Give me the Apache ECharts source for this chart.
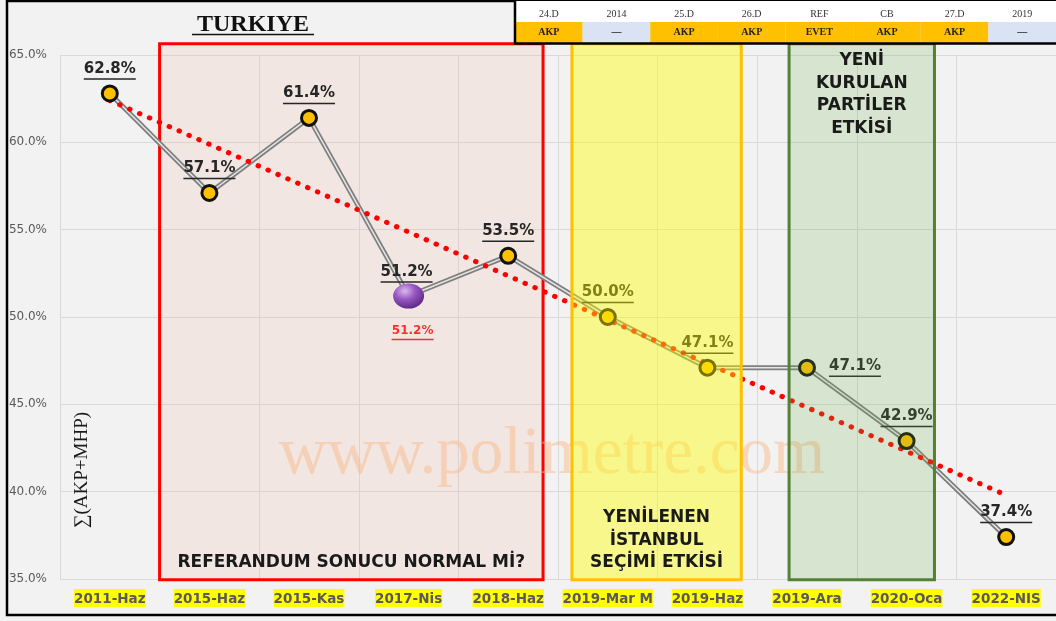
<!DOCTYPE html>
<html>
<head>
<meta charset="utf-8">
<title>TURKIYE</title>
<script src="https://cdn.jsdelivr.net/npm/echarts@6/dist/echarts.min.js"></script>
<style>
  html, body { margin: 0; padding: 0; background: #fff; }
  #chart { width: 1056px; height: 621px; }
</style>
</head>
<body>
<div id="chart"></div>
<script>
// veriler
const categories = ['2011-Haz', '2015-Haz', '2015-Kas', '2017-Nis', '2018-Haz',
  '2019-Mar M', '2019-Haz', '2019-Ara', '2020-Oca', '2022-NIS']
const shareValues = [62.8, 57.1, 61.4, 51.2, 53.5, 50.0, 47.1, 47.1, 42.9, 37.4]
const trendEnds = [62.4, 39.8]
const highlightIndex = 3
const yMin = 35
const yMax = 65
const yStep = 5

// kutular (x: kategori sirasi, y: yuzde)
const boxX = [[0.5, 4.35], [4.64, 6.34], [6.82, 8.28]]
const boxY = [34.95, 65.65]
const boxNotes = ['REFERANDUM SONUCU NORMAL Mİ?', 'YENİLENEN\nİSTANBUL\nSEÇİMİ ETKİSİ', 'YENİ\nKURULAN\nPARTİLER\nETKİSİ']

// ust tablo
const tableHeads = ['24.D', '2014', '25.D', '26.D', 'REF', 'CB', '27.D', '2019']
const tableVals = ['AKP', '—', 'AKP', 'AKP', 'EVET', 'AKP', 'AKP', '—']

const boxStyles = [
  { fill: 'rgba(240,180,150,0.18)', stroke: '#ff0000', noteAt: 'bottom' },
  { fill: 'rgba(255,255,0,0.42)', stroke: '#ffc000', noteAt: 'bottom' },
  { fill: 'rgba(112,173,71,0.2)', stroke: '#548235', noteAt: 'top' }
]

const chart = echarts.init(document.getElementById('chart'))

const boxRenderer = (idxList) => (params, api) => {
  const k = idxList[params.dataIndex]
  const p0 = api.coord([api.value(0), api.value(3)])
  const p1 = api.coord([api.value(1), api.value(2)])
  const st = boxStyles[k]
  const top = st.noteAt === 'top'
  return {
    type: 'group',
    children: [
      {
        type: 'rect',
        shape: { x: p0[0], y: p0[1], width: p1[0] - p0[0], height: p1[1] - p0[1] },
        style: { fill: st.fill, stroke: st.stroke, lineWidth: 3 }
      },
      {
        type: 'text',
        x: (p0[0] + p1[0]) / 2,
        y: top ? p0[1] + 6 : p1[1] - 6,
        style: {
          text: boxNotes[k],
          fill: '#1a1a1a',
          fontSize: 17,
          fontWeight: 'bold',
          fontFamily: 'DejaVu Sans',
          align: 'center',
          verticalAlign: top ? 'top' : 'bottom',
          lineHeight: 22.5
        }
      }
    ]
  }
}

const boxData = (idxList) => idxList.map(k => [boxX[k][0], boxX[k][1], boxY[0], boxY[1]])

const labelRich = (color, size, w) => ({
  v: { color: color, fontSize: size, fontWeight: 'bold', fontFamily: 'DejaVu Sans', lineHeight: size + 2 },
  u: { width: w, height: 1.5, lineHeight: 3, backgroundColor: color }
})

const pointData = shareValues.map((v, i) => {
  if (i === highlightIndex) {
    return {
      value: v,
      symbolSize: [31, 25],
      itemStyle: {
        color: {
          type: 'radial', x: 0.38, y: 0.3, r: 0.75,
          colorStops: [
            { offset: 0, color: '#dcb8f0' },
            { offset: 0.45, color: '#9858c2' },
            { offset: 1, color: '#5a2580' }
          ]
        },
        borderWidth: 0
      },
      label: { distance: 0, offset: [-2, 0] }
    }
  }
  if (i === 7) {
    return { value: v, label: { position: 'right', distance: 13 } }
  }
  return v
})

const trendData = categories.map((c, i) => {
  if (i === 0) return trendEnds[0]
  if (i === categories.length - 1) return trendEnds[1]
  return null
})

const noteData = categories.map((c, i) => (i === highlightIndex ? shareValues[i] : '-'))

const graphics = [
  // cerceve
  {
    type: 'rect', z: -1,
    shape: { x: 7, y: 1, width: 1060, height: 614 },
    style: { fill: 'none', stroke: '#000', lineWidth: 2.5 }
  },
  // baslik
  {
    type: 'text', x: 253, y: 25, z: 20,
    style: { text: 'TURKIYE', fill: '#111', fontSize: 24, fontWeight: 'bold', fontFamily: 'Liberation Serif', align: 'center', verticalAlign: 'middle' }
  },
  {
    type: 'line', z: 20,
    shape: { x1: 192, y1: 34.5, x2: 314, y2: 34.5 },
    style: { stroke: '#111', lineWidth: 1.5 }
  },
  // eksen adi
  {
    type: 'text', x: 82, y: 470, rotation: Math.PI / 2, z: 20,
    style: { text: '∑(AKP+MHP)', fill: '#1a1a1a', fontSize: 19, fontFamily: 'Liberation Serif', align: 'center', verticalAlign: 'middle' }
  },
  // filigran
  {
    type: 'text', x: 552, y: 455, z: 1.5,
    style: { text: 'www.polimetre.com', fill: 'rgba(250,185,140,0.5)', fontSize: 67, fontFamily: 'Liberation Serif', align: 'center', verticalAlign: 'middle' }
  }
]

// tablo
const tLeft = 515
const tRight = 1056
const colW = (tRight - tLeft) / tableHeads.length
graphics.push({
  type: 'rect', z: 20,
  shape: { x: tLeft, y: 1, width: tRight - tLeft + 5, height: 21 },
  style: { fill: '#ffffff' }
})
tableHeads.forEach((h, i) => {
  const cx = tLeft + colW * i
  const empty = tableVals[i] === '—'
  graphics.push({
    type: 'rect', z: 20,
    shape: { x: cx, y: 22, width: colW, height: 21 },
    style: { fill: empty ? '#dae3f3' : '#ffc000' }
  })
  graphics.push({
    type: 'text', x: cx + colW / 2, y: 14, z: 21,
    style: { text: h, fill: '#333', fontSize: 10, fontFamily: 'Liberation Serif', align: 'center', verticalAlign: 'middle' }
  })
  graphics.push({
    type: 'text', x: cx + colW / 2, y: 32.5, z: 21,
    style: { text: tableVals[i], fill: '#222', fontSize: 10, fontWeight: 'bold', fontFamily: 'Liberation Serif', align: 'center', verticalAlign: 'middle' }
  })
})
graphics.push({
  type: 'polyline', z: 22,
  shape: { points: [[tLeft, 0], [tLeft, 43.5], [tRight + 5, 43.5]] },
  style: { stroke: '#000', lineWidth: 2.5, fill: 'none' }
})

const option = {
  animation: false,
  backgroundColor: '#f2f2f2',
  grid: { left: 60, right: 0, top: 55, bottom: 42 },
  xAxis: [
    {
      type: 'category',
      data: categories,
      boundaryGap: true,
      axisLine: { show: false },
      axisTick: { show: false },
      splitLine: { show: true, lineStyle: { color: '#d9d9d9', width: 1 } },
      axisLabel: {
        interval: 0,
        margin: 10,
        color: '#595959',
        fontSize: 13.5,
        fontWeight: 'bold',
        fontFamily: 'DejaVu Sans',
        backgroundColor: '#ffff00',
        padding: [3, 0, 1, 0]
      }
    },
    { type: 'value', min: -0.5, max: 9.5, show: false, splitLine: { show: false } }
  ],
  yAxis: {
    type: 'value',
    min: yMin,
    max: yMax,
    interval: yStep,
    axisLine: { show: false },
    axisTick: { show: false },
    splitLine: { lineStyle: { color: '#d9d9d9', width: 1 } },
    axisLabel: {
      margin: 13,
      color: '#595959',
      fontSize: 12,
      fontFamily: 'DejaVu Sans',
      formatter: v => v.toFixed(1) + '%'
    }
  },
  graphic: graphics,
  series: [
    {
      name: 'kutu-arka',
      type: 'custom',
      xAxisIndex: 1,
      z: 1,
      clip: false,
      renderItem: boxRenderer([0]),
      data: boxData([0])
    },
    {
      name: 'cizgi',
      type: 'line',
      data: shareValues,
      symbol: 'none',
      z: 2,
      lineStyle: { color: '#7f7f7f', width: 5 }
    },
    {
      name: 'cizgi-ic',
      type: 'line',
      data: shareValues,
      symbol: 'none',
      z: 2,
      lineStyle: { color: '#e6e6e6', width: 1.5 }
    },
    {
      name: 'trend',
      type: 'line',
      data: trendData,
      connectNulls: true,
      symbol: 'none',
      z: 3,
      lineStyle: { color: '#ff0000', width: 5, type: [0.5, 10.3], cap: 'round' }
    },
    {
      name: 'noktalar',
      type: 'scatter',
      data: pointData,
      z: 4,
      symbol: 'circle',
      symbolSize: 15,
      itemStyle: { color: '#ffc000', borderColor: '#111', borderWidth: 3, opacity: 1 },
      label: {
        show: true,
        position: 'top',
        distance: 4,
        formatter: p => `{v|${p.value.toFixed(1)}%}\n{u|}`,
        rich: labelRich('#262626', 15, 52)
      }
    },
    {
      name: 'not',
      type: 'scatter',
      data: noteData,
      z: 4,
      symbolSize: 0,
      label: {
        show: true,
        position: 'bottom',
        distance: 28,
        offset: [4, 0],
        formatter: p => `{v|${p.value.toFixed(1)}%}\n{u|}`,
        rich: labelRich('#ff0000', 12, 42)
      }
    },
    {
      name: 'kutu-on',
      type: 'custom',
      xAxisIndex: 1,
      z: 10,
      clip: false,
      renderItem: boxRenderer([1, 2]),
      data: boxData([1, 2])
    }
  ]
}

chart.setOption(option)

window.addEventListener('resize', () => {
  chart.resize()
})
</script>
</body>
</html>
